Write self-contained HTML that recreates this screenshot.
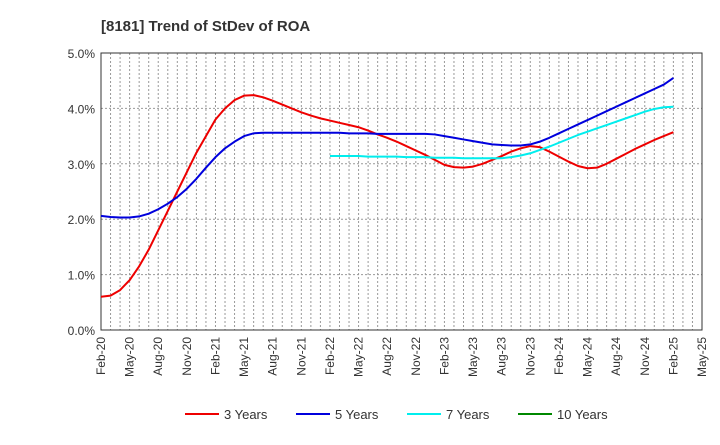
<!DOCTYPE html>
<html><head><meta charset="utf-8"><style>
body{margin:0;background:#fff;font-family:"Liberation Sans",sans-serif;}
</style></head><body>
<svg id="c" width="720" height="440" xmlns="http://www.w3.org/2000/svg" font-family="Liberation Sans, sans-serif">
<text x="101" y="31" font-size="15" font-weight="bold" fill="#333">[8181]  Trend of StDev of ROA</text>
<g id="grid"></g><g id="axes"></g><g id="series"></g><g id="legend"></g>
</svg>
<script>
const xLabels=["Feb-20","May-20","Aug-20","Nov-20","Feb-21","May-21","Aug-21","Nov-21","Feb-22","May-22","Aug-22","Nov-22","Feb-23","May-23","Aug-23","Nov-23","Feb-24","May-24","Aug-24","Nov-24","Feb-25","May-25"];
const yTicks=[0,1,2,3,4,5];
const s3=[0.6,0.62,0.72,0.9,1.15,1.45,1.8,2.15,2.5,2.85,3.2,3.5,3.8,4.0,4.15,4.23,4.24,4.2,4.14,4.07,4.0,3.93,3.87,3.82,3.78,3.74,3.7,3.66,3.6,3.53,3.47,3.4,3.32,3.24,3.16,3.07,2.98,2.94,2.93,2.95,3.0,3.07,3.14,3.22,3.28,3.32,3.3,3.22,3.13,3.04,2.96,2.92,2.93,3.0,3.09,3.18,3.27,3.35,3.43,3.5,3.57];
const s5=[2.06,2.04,2.03,2.03,2.05,2.1,2.18,2.28,2.4,2.55,2.73,2.93,3.12,3.28,3.4,3.5,3.55,3.56,3.56,3.56,3.56,3.56,3.56,3.56,3.56,3.56,3.55,3.55,3.55,3.54,3.54,3.54,3.54,3.54,3.54,3.53,3.5,3.47,3.44,3.41,3.38,3.35,3.34,3.33,3.33,3.35,3.4,3.47,3.55,3.63,3.71,3.79,3.87,3.95,4.03,4.11,4.19,4.27,4.35,4.43,4.55];
const s7Start=24;
const s7=[3.14,3.14,3.14,3.14,3.13,3.13,3.13,3.13,3.12,3.12,3.12,3.11,3.11,3.11,3.1,3.1,3.1,3.1,3.1,3.12,3.15,3.19,3.25,3.31,3.38,3.45,3.52,3.58,3.64,3.7,3.76,3.82,3.88,3.94,3.99,4.02,4.03];
const NS="http://www.w3.org/2000/svg";
const L=101,R=702,T=53,B=330,months=63;
const X=m=>L+(R-L)*m/months, Y=v=>B-(B-T)*v/5;
function mk(t,a,p){const e=document.createElementNS(NS,t);for(const k in a)e.setAttribute(k,a[k]);p.appendChild(e);return e;}
const g=document.getElementById('grid'),ax=document.getElementById('axes'),se=document.getElementById('series'),lg=document.getElementById('legend');
for(let m=1;m<months;m++){const l=mk('line',{x1:X(m),x2:X(m),y1:T,y2:B,stroke:'#999','stroke-dasharray':'2,2','stroke-width':1},g);

}
yTicks.forEach(v=>{if(v>0&&v<5){const l=mk('line',{x1:L,x2:R,y1:Y(v),y2:Y(v),stroke:'#999','stroke-dasharray':'2,2'},g);

}
const t=mk('text',{x:L-6,y:Y(v)+5,'text-anchor':'end','font-size':12,fill:'#333'},ax);t.textContent=v.toFixed(1)+'%';

});
const fr=mk('rect',{x:L,y:T,width:R-L,height:B-T,fill:'none',stroke:'#333'},ax);


xLabels.forEach((s,i)=>{const x=X(i*3);const t=mk('text',{transform:`translate(${x+4},${B+7}) rotate(-90)`,'text-anchor':'end','font-size':12,fill:'#333'},ax);t.textContent=s;

});
function line(arr,start,col,name){const p=mk('polyline',{points:arr.map((v,i)=>X(start+i)+','+Y(v)).join(' '),fill:'none',stroke:col,'stroke-width':2,'stroke-linejoin':'round'},se);

}
line(s3,0,'#e00','series-3-years');line(s5,0,'#00d','series-5-years');line(s7,s7Start,'#0ee','series-7-years');
[["3 Years",'#e00',185],["5 Years",'#00d',296],["7 Years",'#0ee',407],["10 Years",'#080',518]].forEach(([n,c,x])=>{
const l=mk('line',{x1:x,x2:x+34,y1:414,y2:414,stroke:c,'stroke-width':2},lg);


const t=mk('text',{x:x+39,y:419,'font-size':13,fill:'#333'},lg);t.textContent=n;

});
</script>
</body></html>
